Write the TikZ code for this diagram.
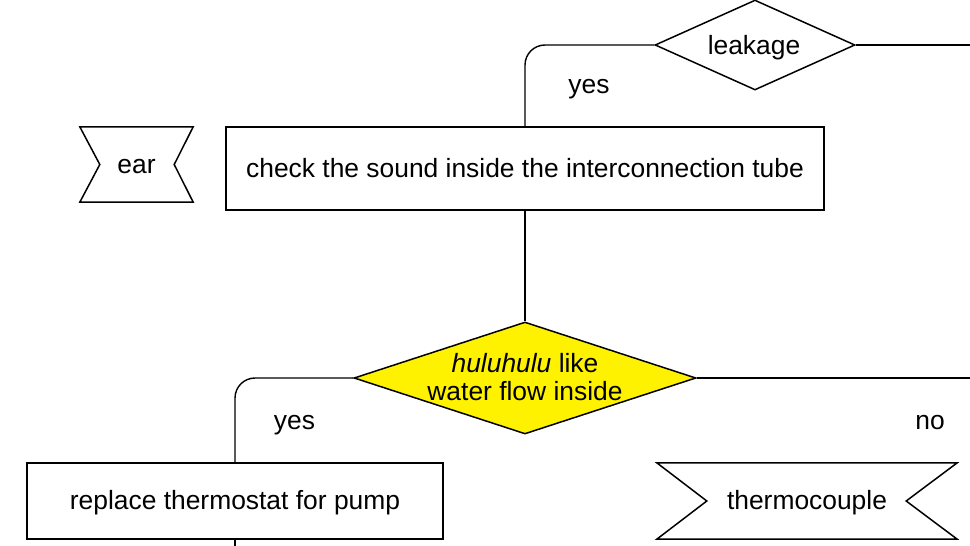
\documentclass[tikz,border=0pt]{standalone}
\usepackage{fontspec}
\setmainfont{Liberation Sans}
\usetikzlibrary{shapes.geometric,calc}
\begin{document}
\begin{tikzpicture}[x=1pt,y=-1pt,
  shapeline/.style={draw=black, line width=1.5pt},
  conn/.style={draw=black, line width=1.4pt, rounded corners=20pt},
  fnt/.style={font=\fontsize{26.4}{28}\selectfont, inner sep=0pt},
  txt/.style={fnt, text height=22pt, text depth=4.5pt},
  box/.style={shapeline, txt, rectangle},
  decision/.style={shapeline, diamond, inner sep=0pt},
  ribbon/.style={txt, rectangle}
  ]
\useasboundingbox (0,0) rectangle (970,546);

% nodes
\node[decision, minimum width=200pt, minimum height=90pt] (leak) at (755,45) {};
\node[fnt, anchor=base] (leaktext) at (754,54) {leakage};

\node[box, minimum width=598pt, minimum height=83pt] (check) at (525,168.5) {check the sound inside the interconnection tube};

\node[ribbon, minimum width=113pt, minimum height=75pt] (ear) at (136.5,164.5) {ear};
\draw[shapeline] (ear.north west) -- (ear.north east) -- ([xshift=-19pt]ear.east) -- (ear.south east) -- (ear.south west) -- ([xshift=20pt]ear.west) -- cycle;

\node[decision, fill=yellow, minimum width=342pt, minimum height=112pt] (flow) at (525,378) {};
\node[fnt, align=center] (flowtext) at (525,377) {\textit{huluhulu} like\\water flow inside};

\node[box, minimum width=416pt, minimum height=76pt] (replace) at (235,501) {replace thermostat for pump};

\node[ribbon, minimum width=300pt, minimum height=76pt] (thermo) at (807,501) {thermocouple};
\draw[shapeline] (thermo.north west) -- (thermo.north east) -- ([xshift=-51pt]thermo.east) -- (thermo.south east) -- (thermo.south west) -- ([xshift=50pt]thermo.west) -- cycle;

% labels
\node[fnt, anchor=base] (yes1) at (589,93.5) {yes};
\node[fnt, anchor=base] (yes2) at (294.5,429) {yes};
\node[fnt, anchor=base] (no1) at (930,429) {no};

% free ends
\coordinate (rightA) at (970,45);
\coordinate (rightB) at (970,378);
\coordinate (bottomA) at (235,546);

% connectors
\draw[conn] (leak.west) -| (check.north);
\draw[conn] (leak.east) -- (rightA);
\draw[conn] (check.south) -- (flow.north);
\draw[conn] (flow.west) -| (replace.north);
\draw[conn] (flow.east) -- (rightB);
\draw[conn] (replace.south) -- (bottomA);
\end{tikzpicture}
\end{document}
